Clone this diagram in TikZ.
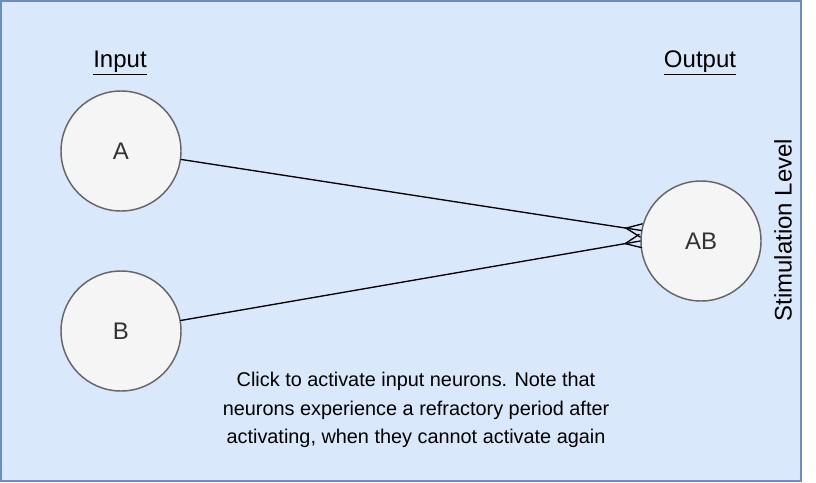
\documentclass[tikz,border=0pt]{standalone}
\usepackage{fontspec}
\setmainfont{Liberation Sans}
\usetikzlibrary{calc}

\definecolor{panelFill}{HTML}{DAE8FC}
\definecolor{panelLine}{HTML}{6C8EBF}
\definecolor{cellFill}{HTML}{F5F5F5}
\definecolor{cellLine}{HTML}{666666}
\definecolor{cellText}{HTML}{333333}

\tikzset{
  neuron/.style={circle, draw=cellLine, fill=cellFill, line width=1.1pt,
    minimum size=90pt, inner sep=0pt, text=cellText, font=\fontsize{18}{21}\selectfont},
  heading/.style={font=\fontsize{18}{21}\selectfont},
  synapse/.style={line width=1pt, line cap=round}
}

% crow's foot at the end of an edge
\newcommand{\crowfoot}[2]{%
  \coordinate (foot) at ($(#2)!11.5pt!(#1)$);
  \draw[synapse] ($(#2)!5pt!90:(#1)$) -- (foot) -- ($(#2)!5pt!-90:(#1)$);
}

\begin{document}
\begin{tikzpicture}[x=0.75pt, y=-0.75pt]
\useasboundingbox (0,0) rectangle (816,482);
\draw[panelLine, fill=panelFill, line width=1.1pt] (1,1) rectangle (801,481);

\node[neuron] (A) at (121,151) {A};
\node[neuron] (B) at (121,331) {B};
\node[neuron] (AB) at (701,241) {AB};

\node[heading] (input) at (120,63) {\underline{Input}};
\node[heading] (output) at (700,63) {\underline{Output}};
\node[heading, rotate=90] (level) at (783,230) {Stimulation Level};

% connections into the output neuron
\coordinate (inA) at (AB.170.4);
\coordinate (inB) at (AB.west);
\draw[synapse] (A.-8.6) -- (inA);
\draw[synapse] (B.10.6) -- (inB);
\crowfoot{A.-8.6}{inA}
\crowfoot{B.10.6}{inB}

\node[align=center, font=\fontsize{14.9}{21.5}\selectfont] (note) at (416,410)
  {Click to activate input neurons. Note that\\neurons experience a refractory period after\\activating, when they cannot activate again};
\end{tikzpicture}
\end{document}
